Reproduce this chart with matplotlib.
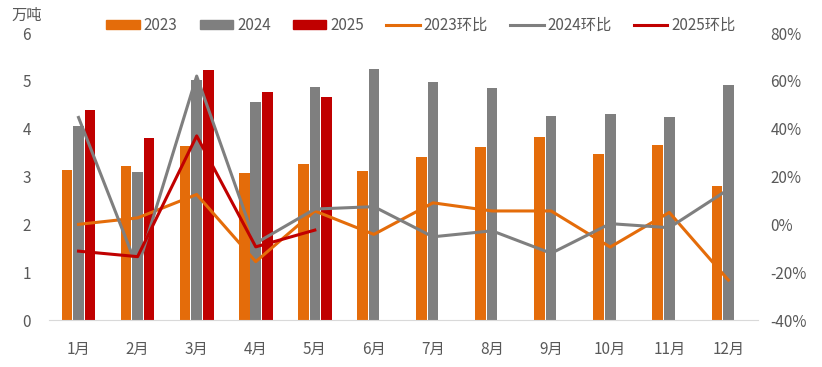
import matplotlib
matplotlib.use("Agg")
import matplotlib.pyplot as plt
from matplotlib.patches import Patch
from matplotlib.lines import Line2D
import numpy as np

plt.rcParams['font.family'] = ['Noto Sans CJK SC', 'DejaVu Sans']

months = ['1月', '2月', '3月', '4月', '5月', '6月', '7月', '8月', '9月', '10月', '11月', '12月']
v2023 = [3.14, 3.23, 3.63, 3.07, 3.26, 3.12, 3.41, 3.62, 3.82, 3.47, 3.65, 2.81]
v2024 = [4.06, 3.09, 5.02, 4.55, 4.87, 5.25, 4.98, 4.85, 4.26, 4.30, 4.25, 4.92]
v2025 = [4.40, 3.81, 5.22, 4.76, 4.66]
m2023 = [0.0, 2.7, 12.5, -15.6, 5.6, -4.2, 9.0, 5.6, 5.6, -9.5, 5.0, -23.3]
m2024 = [44.7, -18.4, 62.0, -7.9, 6.4, 7.4, -5.2, -2.7, -12.1, 0.3, -1.4, 14.6]
m2025 = [-11.2, -13.5, 37.0, -9.4, -2.4]

c23 = '#E46C0A'
c24 = '#7F7F7F'
c25 = '#C00000'
tc = '#595959'

fig = plt.figure(figsize=(8.22, 3.67), dpi=100)
ax = fig.add_axes([0.0596, 0.128, 0.8624, 0.782])
ax2 = ax.twinx()

x = np.arange(len(months))
w = 0.18
off = 0.195
ax.bar(x - off, v2023, w, color=c23, zorder=2)
ax.bar(x, v2024, w, color=c24, zorder=2)
ax.bar(np.arange(len(v2025)) + off, v2025, w, color=c25, zorder=2)

ax2.plot(x, m2023, color=c23, lw=2.2, zorder=3)
ax2.plot(x, m2024, color=c24, lw=2.2, zorder=3)
ax2.plot(np.arange(len(m2025)), m2025, color=c25, lw=2.2, zorder=3)

ax.set_xlim(-0.5, 11.5)
ax.set_ylim(0, 6)
ax2.set_ylim(-40, 80)
ax.set_xticks(x)
ax.set_xticklabels(months)
ax.set_yticks(range(0, 7))
ax2.set_yticks(range(-40, 81, 20))
ax2.set_yticklabels([f'{t}%' for t in range(-40, 81, 20)])

for a in (ax, ax2):
    for s in ['top', 'left', 'right', 'bottom']:
        a.spines[s].set_visible(False)
    a.tick_params(length=0, labelsize=11, colors=tc)
ax.spines['bottom'].set_visible(True)
ax.spines['bottom'].set_color('#D9D9D9')
ax.tick_params(axis='x', pad=15)
ax.tick_params(axis='y', pad=13)
ax2.tick_params(axis='y', pad=9)

fig.text(0.014, 0.958, '万吨', fontsize=11, color=tc, va='center', ha='left')

handles = [Patch(color=c23), Patch(color=c24), Patch(color=c25),
           Line2D([], [], color=c23, lw=2.2), Line2D([], [], color=c24, lw=2.2),
           Line2D([], [], color=c25, lw=2.2)]
labels = ['2023', '2024', '2025', '2023环比', '2024环比', '2025环比']
leg = fig.legend(handles, labels, loc='center', bbox_to_anchor=(0.512, 0.930), ncol=6,
                 frameon=False, fontsize=11, handlelength=2.2, handleheight=0.55,
                 handletextpad=0.25, columnspacing=1.45, labelcolor=tc)

fig.savefig('out.png', dpi=100)
